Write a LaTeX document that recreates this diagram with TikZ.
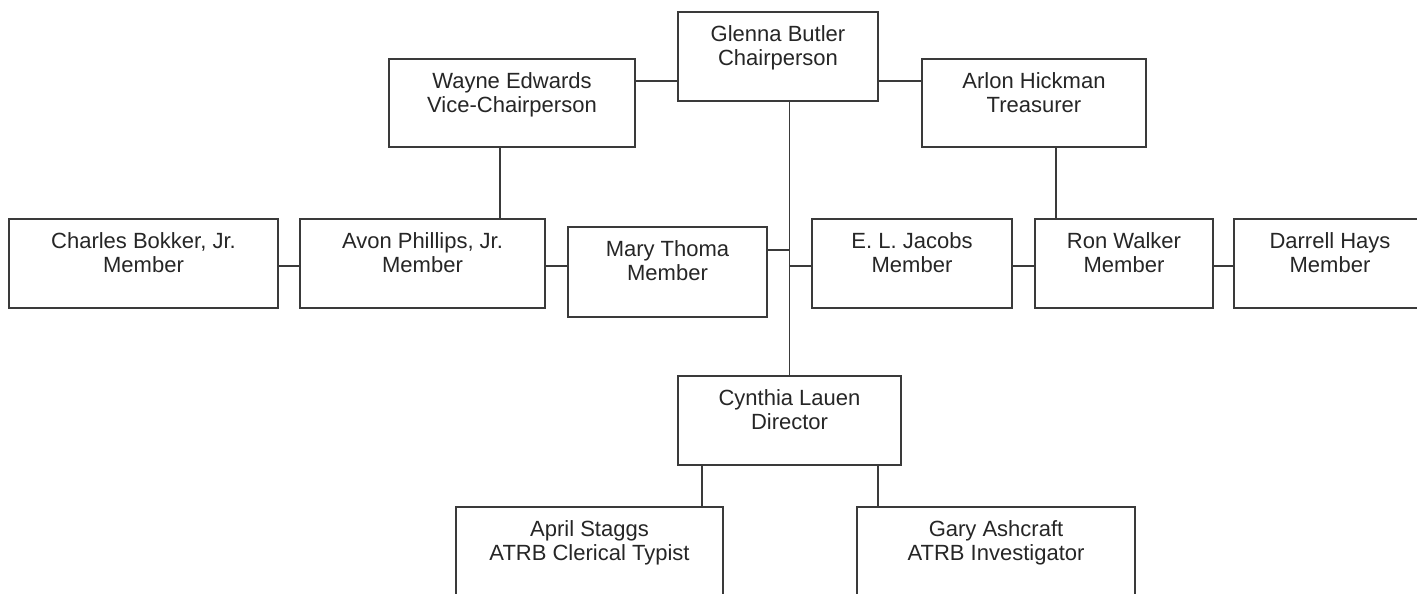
\documentclass[tikz,border=0pt]{standalone}
\usepackage{fontspec}
\setmainfont{Liberation Sans}
\definecolor{ln}{HTML}{3A3A3A}
\definecolor{tx}{HTML}{262626}
\newcommand{\fs}{\rule{0pt}{17pt}}
\tikzset{
  box/.style={draw=ln, line width=1.6pt, rectangle, inner sep=0pt, fill=white},
  lbl/.style={anchor=north, inner sep=0pt, align=center, text=tx,
              font=\fontsize{22}{24}\selectfont},
  con/.style={draw=ln, line width=1.6pt}
}
\begin{document}
\begin{tikzpicture}[x=1pt,y=-1pt]
\useasboundingbox (0,0) rectangle (1417,594);
\clip (0,0) rectangle (1417,594);
\fill[white] (0,0) rectangle (1417,594);
% boxes
\node[box, minimum width=200pt, minimum height=89pt] (glenna)  at (778,56.5) {};
\node[box, minimum width=246pt, minimum height=88pt] (wayne)   at (512,103) {};
\node[box, minimum width=224pt, minimum height=88pt] (arlon)   at (1034,103) {};
\node[box, minimum width=269pt, minimum height=89pt] (charles) at (143.5,263.5) {};
\node[box, minimum width=245pt, minimum height=89pt] (avon)    at (422.5,263.5) {};
\node[box, minimum width=199pt, minimum height=90pt] (mary)    at (667.5,272) {};
\node[box, minimum width=200pt, minimum height=89pt] (jacobs)  at (912,263.5) {};
\node[box, minimum width=178pt, minimum height=89pt] (walker)  at (1124,263.5) {};
\node[box, minimum width=192pt, minimum height=89pt] (hays)    at (1330,263.5) {};
\node[box, minimum width=223pt, minimum height=89pt] (cynthia) at (789.5,420.5) {};
\node[box, minimum width=267pt, minimum height=89pt] (april)   at (589.5,551.5) {};
\node[box, minimum width=278pt, minimum height=89pt] (gary)    at (996,551.5) {};
% labels
\node[lbl] (glennaT)  at ([yshift=-13pt]glenna.north)  {\fs Glenna Butler\\Chairperson};
\node[lbl] (wayneT)   at ([yshift=-13pt]wayne.north)   {\fs Wayne Edwards\\Vice-Chairperson};
\node[lbl] (arlonT)   at ([yshift=-13pt]arlon.north)   {\fs Arlon Hickman\\Treasurer};
\node[lbl] (charlesT) at ([yshift=-13pt]charles.north) {\fs Charles Bokker, Jr.\\Member};
\node[lbl] (avonT)    at ([yshift=-13pt]avon.north)    {\fs Avon Phillips, Jr.\\Member};
\node[lbl] (maryT)    at ([yshift=-13pt]mary.north)    {\fs Mary Thoma\\Member};
\node[lbl] (jacobsT)  at ([yshift=-13pt]jacobs.north)  {\fs E. L. Jacobs\\Member};
\node[lbl] (walkerT)  at ([yshift=-13pt]walker.north)  {\fs Ron Walker\\Member};
\node[lbl] (haysT)    at ([yshift=-13pt]hays.north)    {\fs Darrell Hays\\Member};
\node[lbl] (cynthiaT) at ([yshift=-13pt]cynthia.north) {\fs Cynthia Lauen\\Director};
\node[lbl] (aprilT)   at ([yshift=-13pt]april.north)   {\fs April Staggs\\ATRB Clerical Typist};
\node[lbl] (garyT)    at ([yshift=-13pt]gary.north)    {\fs Gary Ashcraft\\ATRB Investigator};
% connectors
\draw[con] ([yshift=22pt]wayne.east) -- ([yshift=22pt]wayne.east -| glenna.west);
\draw[con] ([yshift=22pt]arlon.west) -- ([yshift=22pt]arlon.west -| glenna.east);
\draw[con] (cynthia.north) -- (cynthia.north |- glenna.south);
\draw[con] ([xshift=-12pt]wayne.south) -- ([xshift=-12pt]wayne.south |- avon.north);
\draw[con] ([xshift=22pt]arlon.south) -- ([xshift=22pt]arlon.south |- walker.north);
\draw[con] ([yshift=-2.5pt]charles.east) -- ([yshift=-2.5pt]charles.east -| avon.west);
\draw[con] ([yshift=-2.5pt]avon.east) -- ([yshift=-2.5pt]avon.east -| mary.west);
\draw[con] ([yshift=22pt]mary.east) -- ([yshift=22pt]mary.east -| cynthia.north);
\draw[con] ([yshift=-2.5pt]jacobs.west) -- ([yshift=-2.5pt]jacobs.west -| cynthia.north);
\draw[con] ([yshift=-2.5pt]jacobs.east) -- ([yshift=-2.5pt]jacobs.east -| walker.west);
\draw[con] ([yshift=-2.5pt]walker.east) -- ([yshift=-2.5pt]walker.east -| hays.west);
\draw[con] ([xshift=112.5pt]april.north) -- ([xshift=112.5pt]april.north |- cynthia.south);
\draw[con] ([xshift=-118pt]gary.north) -- ([xshift=-118pt]gary.north |- cynthia.south);
\end{tikzpicture}
\end{document}
